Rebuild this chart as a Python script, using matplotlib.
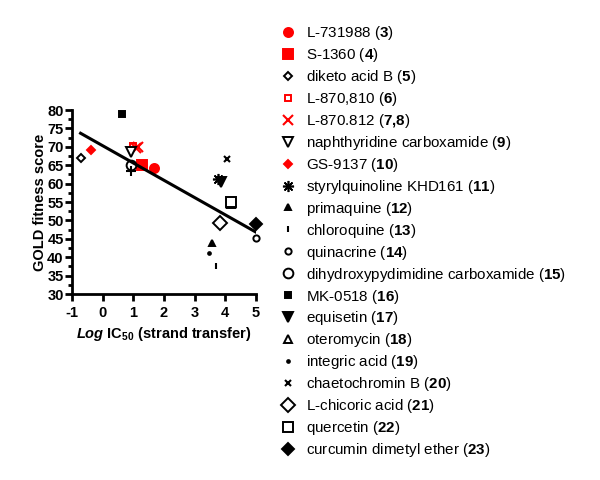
import numpy as np
import matplotlib
matplotlib.use('Agg')
import matplotlib.pyplot as plt

plt.rcParams['font.family'] = ['Liberation Sans', 'DejaVu Sans']
plt.rcParams['mathtext.fontset'] = 'custom'
plt.rcParams['mathtext.rm'] = 'Liberation Sans'
plt.rcParams['mathtext.bf'] = 'Liberation Sans:bold'
plt.rcParams['mathtext.it'] = 'Liberation Sans:italic'
plt.rcParams['mathtext.bfit'] = 'Liberation Sans:bold:italic'
plt.rcParams['axes.unicode_minus'] = False

# compound names, numbers and (log IC50, GOLD score) readings
names = ['L-731988', 'S-1360', 'diketo acid B', 'L-870,810', 'L-870.812',
         'naphthyridine carboxamide', 'GS-9137', 'styrylquinoline KHD161',
         'primaquine', 'chloroquine', 'quinacrine',
         'dihydroxypydimidine carboxamide', 'MK-0518', 'equisetin',
         'oteromycin', 'integric acid', 'chaetochromin B', 'L-chicoric acid',
         'quercetin', 'curcumin dimetyl ether']
numbers = ['3', '4', '5', '6', '7,8', '9', '10', '11', '12', '13', '14', '15',
           '16', '17', '18', '19', '20', '21', '22', '23']
log_ic50 = [[1.68], [1.27], [-0.72], [0.98], [1.1, 1.15], [0.91], [-0.38],
            [3.77], [3.55], [3.68], [5.0], [0.92], [0.63], [3.86], [4.17],
            [3.46], [4.06], [3.82], [4.17], [5.0]]
gold_score = [[64.3], [65.0], [67.0], [70.2], [69.6, 70.0], [68.5], [69.1],
              [61.2], [43.8], [37.6], [45.1], [65.0], [79.0], [60.4], [54.5],
              [41.2], [66.7], [49.2], [55.1], [48.9]]

# unlabeled cross under compound 15
extra_x = [0.92]
extra_y = [63.4]

# linear fit shown on the plot
fit_slope = -4.70
fit_intercept = 70.3

# marker, filled?, colour, size
styles = [
    ('o', True, 'red', 6.5), ('s', True, 'red', 7), ('D', False, 'black', 4.5),
    ('s', False, 'red', 5), ('x', False, 'red', 7.5), ('v', False, 'black', 7),
    ('D', True, 'red', 4.5), ((8, 2, 0), False, 'black', 8), ('^', True, 'black', 5),
    ('|', False, 'black', 5), ('o', False, 'black', 4.5), ('o', False, 'black', 7),
    ('s', True, 'black', 4.5), ('v', True, 'black', 7), ('^', False, 'black', 6),
    ('.', True, 'black', 4), ('x', False, 'black', 4), ('D', False, 'black', 7.5),
    ('s', False, 'black', 6.5), ('D', True, 'black', 6.5),
]

fig = plt.figure(figsize=(6, 4.8), dpi=100)
ax = fig.add_axes([0.12, 0.3875, 0.3067, 0.3833])

handles = []
for name, num, xs, ys, st in zip(names, numbers, log_ic50, gold_score, styles):
    m, filled, c, ms = st
    if m in ('x', '|') or isinstance(m, tuple):
        h, = ax.plot(xs, ys, linestyle='none', marker=m, color=c, markersize=ms,
                     markeredgewidth=1.2 if isinstance(m, tuple) else 1.5,
                     clip_on=False)
    else:
        h, = ax.plot(xs, ys, linestyle='none', marker=m, markersize=ms,
                     markerfacecolor=c if filled else 'white', markeredgecolor=c,
                     markeredgewidth=1.4, clip_on=False)
    h.set_label(name + r' ($\mathbf{' + num.replace(',', '{,}') + '}$)')
    handles.append(h)

ax.plot(extra_x, extra_y, linestyle='none', marker='+', color='black',
        markersize=7, markeredgewidth=1.5)

xs_all = np.concatenate([np.array(v) for v in log_ic50])
xfit = np.array([xs_all.min(), xs_all.max()])
ax.plot(xfit, fit_slope * xfit + fit_intercept, color='black', linewidth=2.2)

ax.set_xlim(-1, 5)
ax.set_ylim(30, 80)
ax.set_xticks(range(-1, 6))
ax.set_yticks(range(30, 81, 5))
ax.set_yticks(np.arange(32.5, 80, 5), minor=True)
for s in ('top', 'right'):
    ax.spines[s].set_visible(False)
for s in ('left', 'bottom'):
    ax.spines[s].set_linewidth(2)
ax.tick_params(axis='both', which='major', direction='out', width=2, length=5,
               labelsize=10.5)
ax.tick_params(axis='y', which='minor', direction='out', width=2, length=3)
ax.tick_params(axis='y', pad=1)
for lab in ax.get_xticklabels() + ax.get_yticklabels():
    lab.set_fontweight('bold')

ax.set_ylabel('GOLD fitness score', fontsize=10.5, fontweight='bold', labelpad=0)
ax.set_xlabel(r'$\mathbfit{Log}$ IC$_{\mathbf{50}}$ (strand transfer)',
              fontsize=10.5, fontweight='bold', labelpad=4)

fig.legend(handles=handles, loc='upper left', bbox_to_anchor=(0.455, 0.962),
           frameon=False, fontsize=10.9, handlelength=1.2, handletextpad=0.55,
           labelspacing=0.26, borderaxespad=0)

fig.savefig('out.png', dpi=100)
